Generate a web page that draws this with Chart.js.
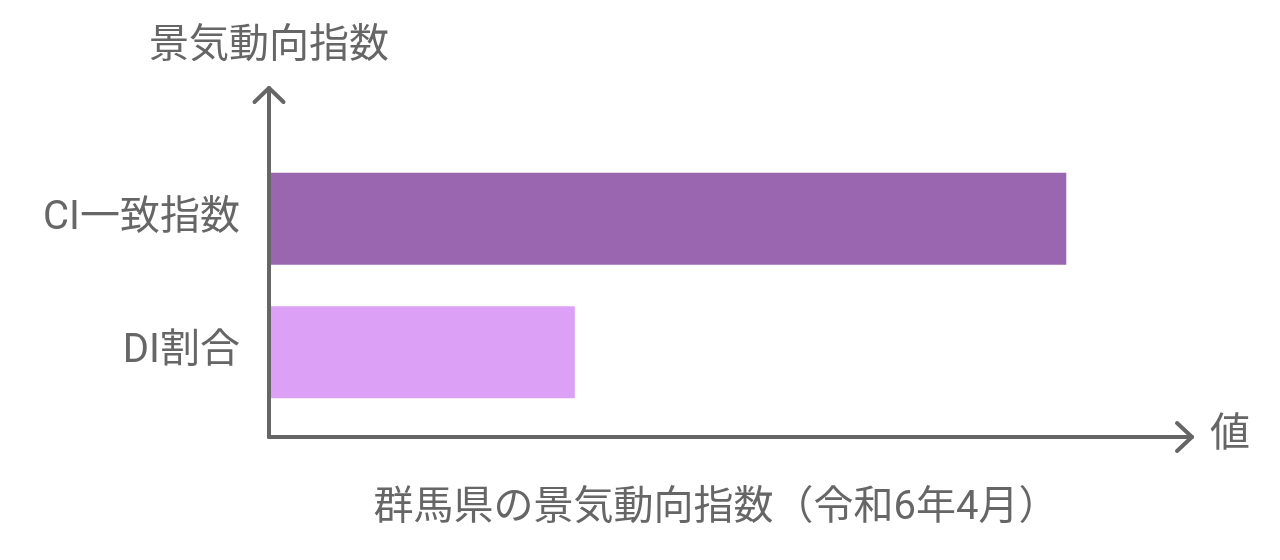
<!DOCTYPE html>
<html lang="ja">
<head>
<meta charset="utf-8">
<script src="https://cdn.jsdelivr.net/npm/chart.js@4/dist/chart.umd.min.js"></script>
<style>
  html, body { margin: 0; padding: 0; background: #fff; }
  #wrap { width: 1280px; height: 560px; position: relative; }
</style>
</head>
<body>
<div id="wrap"><canvas id="chart"></canvas></div>
<script>
// --- data ---
const categories = ['CI一致指数', 'DI割合'];
const values = [115.0, 44.2];
const barColors = ['#9966AF', '#DDA0F7'];
const xMax = 128.5;

const yTitle = '景気動向指数';
const xTitle = '値';
const chartTitle = '群馬県の景気動向指数（令和6年4月）';

const FONT = 'Roboto, "Noto Sans CJK JP", sans-serif';
const GREY = '#666666';

// axes with arrow heads + outer labels
const axisArrows = {
    id: 'axisArrows',
    afterDraw(chart) {
        const ctx = chart.ctx;
        const a = chart.chartArea;
        const x0 = a.left + 1, y0 = a.bottom + 18;
        ctx.save();
        ctx.strokeStyle = GREY;
        ctx.lineWidth = 4;
        ctx.lineCap = 'round';
        ctx.lineJoin = 'round';

        // y axis
        ctx.beginPath();
        ctx.moveTo(x0, y0);
        ctx.lineTo(x0, 88);
        ctx.stroke();
        ctx.beginPath();
        ctx.moveTo(x0 - 14.5, 102);
        ctx.lineTo(x0, 88);
        ctx.lineTo(x0 + 14.5, 102);
        ctx.stroke();

        // x axis
        const xEnd = 1192;
        ctx.beginPath();
        ctx.moveTo(x0, y0);
        ctx.lineTo(xEnd, y0);
        ctx.stroke();
        ctx.beginPath();
        ctx.moveTo(xEnd - 15, y0 - 14);
        ctx.lineTo(xEnd, y0);
        ctx.lineTo(xEnd - 15, y0 + 14);
        ctx.stroke();

        ctx.fillStyle = GREY;
        ctx.font = '40px ' + FONT;
        ctx.textBaseline = 'middle';
        ctx.textAlign = 'center';
        ctx.fillText(yTitle, x0, 47);
        ctx.textAlign = 'left';
        ctx.fillText(xTitle, 1210, y0 - 1);
        ctx.textAlign = 'center';
        ctx.fillText(chartTitle, 716, 509);
        ctx.restore();
    }
};

new Chart(document.getElementById('chart'), {
    type: 'bar',
    data: {
        labels: categories,
        datasets: [{
            data: values,
            backgroundColor: barColors,
            borderWidth: 0,
            categoryPercentage: 1,
            barPercentage: 0.69
        }]
    },
    options: {
        indexAxis: 'y',
        responsive: true,
        maintainAspectRatio: false,
        animation: false,
        layout: { padding: { top: 152, bottom: 141, right: 120, left: 0 } },
        plugins: { legend: { display: false }, tooltip: { enabled: false } },
        scales: {
            x: { display: false, min: 0, max: xMax },
            y: {
                grid: { display: false, drawTicks: false },
                border: { display: false },
                ticks: { color: GREY, font: { size: 40, family: FONT }, padding: 28 },
                afterFit: s => { s.width = 268; }
            }
        }
    },
    plugins: [axisArrows]
});
</script>
</body>
</html>
